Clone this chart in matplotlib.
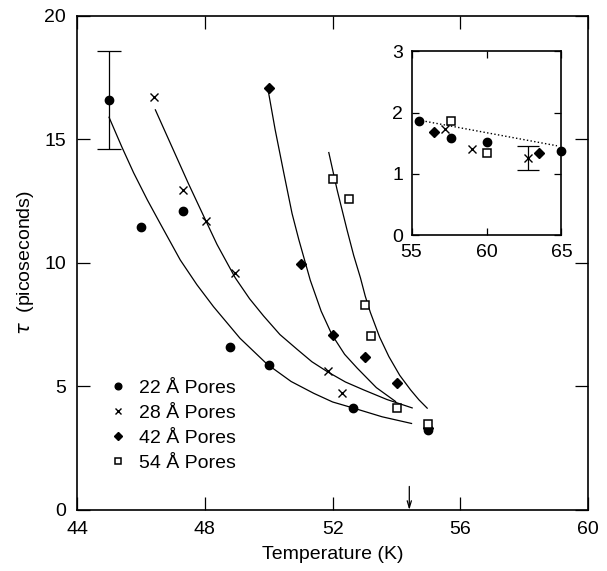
import numpy as np
import matplotlib
matplotlib.use('Agg')
import matplotlib.pyplot as plt

plt.rcParams['font.family'] = ['Liberation Sans', 'DejaVu Sans']

# measured relaxation times (picoseconds) vs temperature (K)
t22 = [45.0, 46.0, 47.3, 48.8, 50.0, 52.65, 55.0]
tau22 = [16.6, 11.45, 12.1, 6.6, 5.85, 4.13, 3.22]
t28 = [46.4, 47.3, 48.05, 48.95, 51.85, 52.3]
tau28 = [16.7, 12.95, 11.7, 9.6, 5.63, 4.75]
t42 = [50.0, 51.0, 52.0, 53.0, 54.0, 55.0]
tau42 = [17.1, 9.95, 7.1, 6.2, 5.15, 3.3]
t54 = [52.0, 52.5, 53.0, 53.2, 54.0, 55.0]
tau54 = [13.4, 12.6, 8.3, 7.05, 4.12, 3.47]

# error bar on the first 22 A point
err22_first = 2.0

# fitted curves
fit22_t = [45.0, 45.4, 45.77, 46.2, 46.6, 47.23, 47.75, 48.27, 49.1, 49.95,
           50.7, 51.41, 52.0, 52.66, 53.55, 54.47]
fit22_tau = [15.9, 14.7, 13.65, 12.55, 11.6, 10.12, 9.12, 8.23, 6.95, 5.9,
             5.2, 4.72, 4.37, 4.12, 3.77, 3.5]
fit28_t = [46.45, 46.97, 47.49, 48.07, 48.38, 48.95, 49.4, 49.84, 50.35,
           50.89, 51.35, 51.83, 52.4, 52.97, 53.7, 54.49]
fit28_tau = [16.2, 14.7, 13.2, 11.6, 10.75, 9.4, 8.55, 7.85, 7.1,
             6.5, 6.0, 5.6, 5.18, 4.86, 4.47, 4.13]
fit42_t = [49.98, 50.2, 50.47, 50.73, 50.94, 51.3, 51.64, 51.98, 52.375,
           52.77, 53.37, 53.97]
fit42_tau = [17.0, 15.4, 13.65, 12.0, 10.95, 9.3, 8.05, 7.09, 6.3,
             5.74, 4.95, 4.39]
fit54_t = [51.88, 52.14, 52.45, 52.66, 52.87, 53.02, 53.18, 53.47, 53.76,
           54.1, 54.44, 54.7, 54.96]
fit54_tau = [14.47, 12.96, 11.34, 10.3, 9.4, 8.66, 8.0, 7.0, 6.21,
             5.45, 4.86, 4.46, 4.12]

# inset: above the transition
i22_t = [55.5, 57.65, 60.0, 65.0]
i22_tau = [1.87, 1.59, 1.52, 1.37]
i28_t = [57.25, 59.0, 62.75]
i28_tau = [1.73, 1.41, 1.26]
i28_err_t = [62.75]
i28_err_tau = [1.26]
i28_err = [0.2]
i42_t = [56.5, 63.5]
i42_tau = [1.69, 1.35]
i54_t = [57.65, 60.0]
i54_tau = [1.87, 1.35]
dot_t = [55.45, 64.7]
dot_tau = [1.88, 1.46]

t_arrow = 54.4

labels = ['22 Å Pores', '28 Å Pores', '42 Å Pores', '54 Å Pores']

fig = plt.figure(figsize=(6.07, 5.71), dpi=100)
ax = fig.add_axes([0.127, 0.107, 0.842, 0.865])

k = 'black'
ax.plot(fit22_t, fit22_tau, color=k, lw=0.9)
ax.plot(fit28_t, fit28_tau, color=k, lw=0.9)
ax.plot(fit42_t, fit42_tau, color=k, lw=0.9)
ax.plot(fit54_t, fit54_tau, color=k, lw=0.9)

ax.errorbar(t22[:1], tau22[:1], yerr=err22_first, fmt='none', ecolor=k,
            elinewidth=0.9, capsize=8.4, capthick=0.9)
h1, = ax.plot(t22, tau22, 'o', color=k, ms=6, clip_on=False)
h2, = ax.plot(t28, tau28, 'x', color=k, ms=6, mew=1.0)
h3, = ax.plot(t42, tau42, 'D', color=k, ms=5)
h4, = ax.plot(t54, tau54, 's', mfc='white', mec=k, ms=5.5, mew=1.1)

ax.annotate('', xy=(t_arrow, 0), xytext=(t_arrow, 0.95),
            arrowprops=dict(arrowstyle='->,head_length=0.5,head_width=0.15',
                            color=k, lw=0.9, shrinkA=0, shrinkB=0))

ax.set_xlim(44, 60)
ax.set_ylim(0, 20)
ax.set_xticks([44, 48, 52, 56, 60])
ax.set_yticks([0, 5, 10, 15, 20])
ax.tick_params(direction='in', length=9.5, width=0.9, top=True, right=True,
               labelsize=14)
ax.tick_params(axis='y', pad=8)
ax.tick_params(axis='x', pad=8)
for s in ax.spines.values():
    s.set_linewidth(1.2)
ax.set_xlabel('Temperature (K)', fontsize=14, labelpad=6)
ax.set_ylabel('$\\tau$  (picoseconds)', fontsize=14, labelpad=6)

leg = ax.legend([h1, h2, h3, h4], labels, loc='upper left',
                bbox_to_anchor=(0.053, 0.272), frameon=False, fontsize=14,
                handlelength=1.0, handletextpad=0.6, labelspacing=0.38,
                markerscale=0.8, borderaxespad=0, borderpad=0.2)

# inset
axi = fig.add_axes([0.678, 0.588, 0.247, 0.322])
axi.plot(dot_t, dot_tau, ':', color=k, lw=1.0)
axi.errorbar(i28_err_t, i28_err_tau, yerr=i28_err, fmt='none', ecolor=k,
             elinewidth=0.9, capsize=8, capthick=0.9)
axi.plot(i22_t, i22_tau, 'o', color=k, ms=6, clip_on=False)
axi.plot(i28_t, i28_tau, 'x', color=k, ms=6, mew=1.0)
axi.plot(i42_t, i42_tau, 'D', color=k, ms=5)
axi.plot(i54_t, i54_tau, 's', mfc='white', mec=k, ms=5.5, mew=1.1)
axi.set_xlim(55, 65)
axi.set_ylim(0, 3)
axi.set_xticks([55, 60, 65])
axi.set_yticks([0, 1, 2, 3])
axi.tick_params(direction='in', length=5, width=0.9, top=True, right=True,
                labelsize=14, pad=6)
for s in axi.spines.values():
    s.set_linewidth(1.2)

fig.savefig('out.png', dpi=100)
